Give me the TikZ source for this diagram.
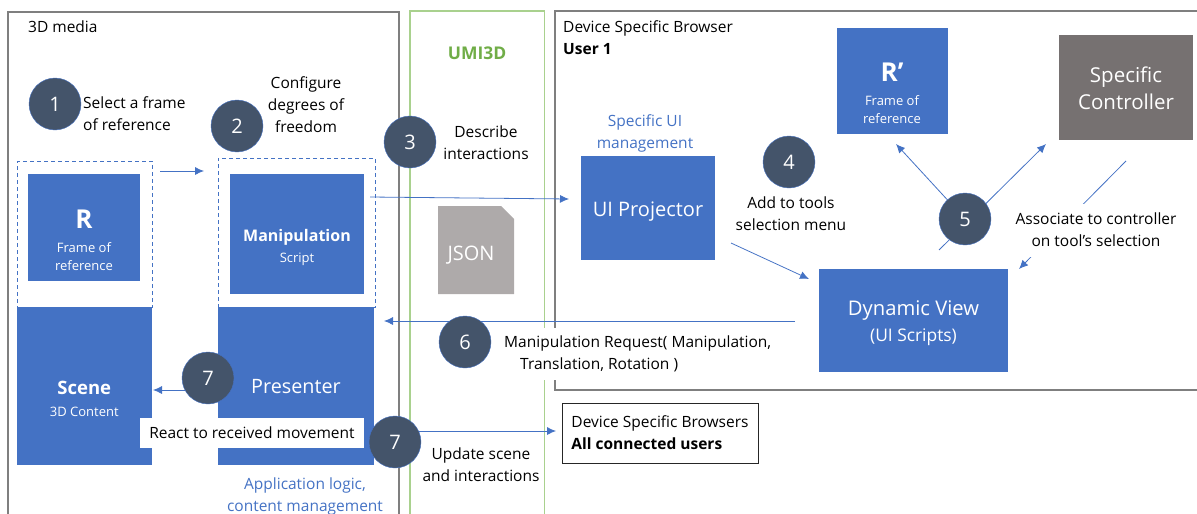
\documentclass[tikz,border=0pt]{standalone}
\usepackage{fontspec}
\setmainfont{Open Sans}
\usetikzlibrary{arrows.meta, positioning}
\definecolor{ui_blue}{HTML}{4472C4}
\definecolor{ui_slate}{HTML}{44546A}
\definecolor{ui_green}{HTML}{A9D18E}
\definecolor{ui_title}{HTML}{70AD47}
\definecolor{ui_frame}{HTML}{7F7F7F}
\definecolor{ui_ctrl}{HTML}{767171}
\definecolor{ui_json}{HTML}{AEAAAA}
\newcommand{\sz}[2]{\fontsize{#1}{#2}\selectfont}
\tikzset{
    frame/.style={draw=ui_frame, line width=1.2pt},
    block/.style={rectangle, fill=ui_blue, inner sep=0pt},
    inblock/.style={text=white, align=center, inner sep=0pt},
    dashbox/.style={draw=ui_blue, dash pattern=on 4pt off 3pt, line width=1pt},
    step_dot/.style={circle, fill=ui_slate, draw=ui_blue, line width=0.4pt, minimum size=52pt, inner sep=0pt, text=white, font=\sz{20}{24}},
    note/.style={align=center, inner sep=0pt, font=\sz{15.5}{22}},
    bluenote/.style={note, text=ui_blue},
    arrow/.style={draw=ui_blue, line width=0.8pt, -{Latex[length=9pt, width=8pt]}}
}
\begin{document}
\begin{tikzpicture}[x=1pt, y=-1pt]
        \useasboundingbox (0, 0) rectangle (1197, 514);

        % Frames
        \coordinate (Media_a) at (8, 514);
        \coordinate (Media_b) at (8, 12);
        \coordinate (Media_c) at (399, 12);
        \coordinate (Media_d) at (399, 514);
        \draw[frame] (Media_a) -- (Media_b) -- (Media_c) -- (Media_d);
        \coordinate (Umi_a) at (410, 514);
        \coordinate (Umi_b) at (410, 11);
        \coordinate (Umi_c) at (544.5, 11);
        \coordinate (Umi_d) at (544.5, 514);
        \draw[draw=ui_green, line width=1.1pt] (Umi_a) -- (Umi_b) -- (Umi_c) -- (Umi_d);
        \coordinate (Dev_a) at (1197, 390);
        \coordinate (Dev_b) at (555, 390);
        \coordinate (Dev_c) at (555, 11);
        \coordinate (Dev_d) at (1197, 11);
        \draw[frame] (Dev_a) -- (Dev_b) -- (Dev_c) -- (Dev_d);

        \node (Media_label) [note, anchor=west] at (28, 27) {3D media};
        \node (Umi_label) [note, anchor=center, text=ui_title, font=\sz{17.5}{22}\bfseries] at (477, 53) {UMI3D};
        \node (Dev_label) [note, anchor=north west, align=left] at (563, 20) {Device Specific Browser\\\textbf{User 1}};

        % Dashed holders
        \node (R_holder) [dashbox, minimum width=134.5pt, minimum height=146pt, inner sep=0pt] at (84.75, 234) {};
        \node (Manip_holder) [dashbox, minimum width=157pt, minimum height=149pt, inner sep=0pt] at (296.5, 232.5) {};

        % Blue boxes
        \node (R_box) [block, minimum width=112pt, minimum height=107pt] at (84, 227.5) {};
        \node (R_text) [inblock, font=\sz{13}{18}] at (84, 240.5) {{\sz{26}{30}\bfseries R}\\[6pt]Frame of\\reference};
        \node (Manip_box) [block, minimum width=134pt, minimum height=120pt] at (297, 234) {};
        \node (Manip_text) [inblock, font=\sz{13}{21}] at (297, 247) {{\sz{16}{22}\bfseries Manipulation}\\Script};
        \node (Scene_box) [block, minimum width=134.5pt, minimum height=158pt] at (84.25, 386) {};
        \node (Scene_text) [inblock, font=\sz{13}{22}] at (84.25, 399) {{\sz{18.5}{24}\bfseries Scene}\\3D Content};
        \node (Presenter_box) [block, minimum width=156pt, minimum height=158pt] at (296, 386) {};
        \node (Presenter_text) [inblock, font=\sz{19.8}{24}] at (296, 387) {Presenter};
        \node (Proj_box) [block, minimum width=134pt, minimum height=104pt] at (648, 208) {};
        \node (Proj_text) [inblock, font=\sz{20}{24}] at (648, 212) {UI Projector};
        \node (Rp_box) [block, minimum width=111.5pt, minimum height=106pt] at (892.25, 81) {};
        \node (Rp_text) [inblock, font=\sz{13}{18}] at (892, 93.5) {{\sz{26}{30}\bfseries R’}\\[6pt]Frame of\\reference};
        \node (Ctrl_box) [rectangle, fill=ui_ctrl, minimum width=134pt, minimum height=105pt, inner sep=0pt] at (1126, 87.5) {};
        \node (Ctrl_text) [inblock, font=\sz{20.5}{27}] at (1126, 88) {Specific\\Controller};
        \node (View_box) [block, minimum width=189pt, minimum height=103pt] at (913.5, 320.5) {};
        \node (View_text) [inblock, font=\sz{17.4}{26}] at (913.5, 323.5) {{\sz{20.2}{26}Dynamic View}\\(UI Scripts)};

        % JSON sheet
        \coordinate (Json_a) at (438, 206);
        \coordinate (Json_b) at (501, 206);
        \coordinate (Json_c) at (514, 219);
        \coordinate (Json_d) at (514, 294);
        \coordinate (Json_e) at (438, 294);
        \fill[ui_json] (Json_a) -- (Json_b) -- (Json_c) -- (Json_d) -- (Json_e) -- cycle;
        \node (Json_text) [inblock, font=\sz{20}{24}] at (471, 255) {JSON};

        % Browsers box
        \node (All_box) [rectangle, draw=black!85, line width=0.8pt, minimum width=196pt, minimum height=60pt, align=left, font=\sz{15.5}{22}, inner sep=0pt] at (660, 433) {Device Specific Browsers\\\textbf{All connected users}};

        % Connectors
        \coordinate (Pick_a) at (160, 171);
        \coordinate (Pick_b) at (204, 171);
        \draw[arrow] (Pick_a) -- (Pick_b);
        \coordinate (Desc_a) at (370, 197);
        \coordinate (Desc_b) at (569, 199);
        \draw[arrow] (Desc_a) -- (Desc_b);
        \coordinate (Add_a) at (731, 243);
        \coordinate (Add_b) at (809, 279);
        \draw[arrow] (Add_a) -- (Add_b);
        \coordinate (Req_a) at (795, 321);
        \coordinate (Req_b) at (384, 321);
        \draw[arrow] (Req_a) -- (Req_b);
        \coordinate (Tool_a) at (939, 250);
        \coordinate (Tool_b) at (1046, 144);
        \coordinate (Tool_c) at (896, 144);
        \coordinate (Tool_d) at (965, 219);
        \draw[arrow] (Tool_a) -- (Tool_b);
        \draw[arrow] (Tool_d) -- (Tool_c);
        \coordinate (Assoc_a) at (1126, 161);
        \coordinate (Assoc_b) at (1019, 269);
        \draw[arrow] (Assoc_a) -- (Assoc_b);
        \coordinate (React_a) at (195, 390);
        \coordinate (React_b) at (153, 390);
        \draw[arrow] (React_a) -- (React_b);
        \coordinate (Upd_a) at (395, 431);
        \coordinate (Upd_b) at (556, 431);
        \draw[arrow] (Upd_a) -- (Upd_b);

        % Notes
        \node (Select_note) [note, align=left, anchor=west] at (83, 114) {Select a frame\\of reference};
        \node (Config_note) [note] at (306, 105) {Configure\\degrees of\\freedom};
        \node (Desc_note) [note] at (486, 143) {Describe\\interactions};
        \node (Ui_note) [bluenote] at (645, 133) {Specific UI\\management};
        \node (Add_note) [note] at (791, 214) {Add to tools\\selection menu};
        \node (Assoc_note) [note, fill=white, inner xsep=1pt, minimum height=53pt] at (1096, 230) {Associate to controller\\on tool’s selection};
        \node (Req_note) [note, align=left, fill=white, anchor=west, inner xsep=13pt, minimum height=52pt] at (491, 354) {Manipulation Request( Manipulation,\\\hspace*{16pt}Translation, Rotation )};
        \node (React_note) [note, fill=white, minimum width=224pt, minimum height=30pt] at (252, 433) {React to received movement};
        \node (Upd_note) [note] at (481, 465) {Update scene\\and interactions};
        \node (App_note) [bluenote] at (305, 496) {Application logic,\\content management};

        % Steps
        \node (Step1) [step_dot] at (55, 104) {1};
        \node (Step2) [step_dot] at (237, 126) {2};
        \node (Step3) [step_dot] at (410, 142) {3};
        \node (Step4) [step_dot] at (789, 162) {4};
        \node (Step5) [step_dot] at (965, 219) {5};
        \node (Step6) [step_dot] at (465, 342) {6};
        \node (Step7a) [step_dot] at (208, 378) {7};
        \node (Step7b) [step_dot] at (395, 442) {7};

    \end{tikzpicture}
\end{document}
